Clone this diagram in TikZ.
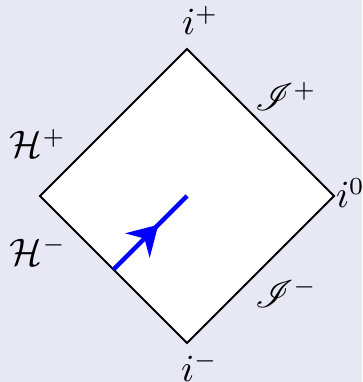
\documentclass[tikz,border=0pt]{standalone}
\usepackage{mathrsfs}
\usetikzlibrary{decorations.markings,arrows.meta}
\definecolor{bgcol}{RGB}{232,232,245}
\begin{document}
\begin{tikzpicture}[x=0.2857pt,y=-0.2857pt,
  lbl/.style={anchor=base west,inner sep=0pt,outer sep=0pt,font=\fontsize{10.5}{12.5}\selectfont},
  edge/.style={draw=black,line width=0.6pt,line join=miter,fill=white},
  ray/.style={draw=blue,line width=1.25pt,
    postaction={decorate,decoration={markings,
      mark=at position 0.61 with {\arrow{Stealth[length=8.4pt,width=9.8pt,inset=2.8pt]}}}}}]
\fill[bgcol] (0,0) rectangle (362,382);
\useasboundingbox (0,0) rectangle (362,382);
\coordinate (top) at (187,49);
\coordinate (right) at (334,196);
\coordinate (bottom) at (187,343);
\coordinate (left) at (40,196);
\coordinate (start) at (113.5,269.5);
\coordinate (center) at (187,196);
\path[edge] (top) -- (right) -- (bottom) -- (left) -- cycle;
\draw[ray] (start) -- (center);
\node[lbl] (iplus) at (182,35) {$i^+$};
\node[lbl] (hplus) at (10,158) {$\mathcal{H}^+$};
\node[lbl] (hminus) at (10,265) {$\mathcal{H}^-$};
\node[lbl] (scriplus) at (255,111) {$\mathscr{I}^+$};
\node[lbl] (izero) at (336,208) {$i^0$};
\node[lbl] (scriminus) at (255,307) {$\mathscr{I}^-$};
\node[lbl] (iminus) at (181,381) {$i^-$};
\end{tikzpicture}
\end{document}
